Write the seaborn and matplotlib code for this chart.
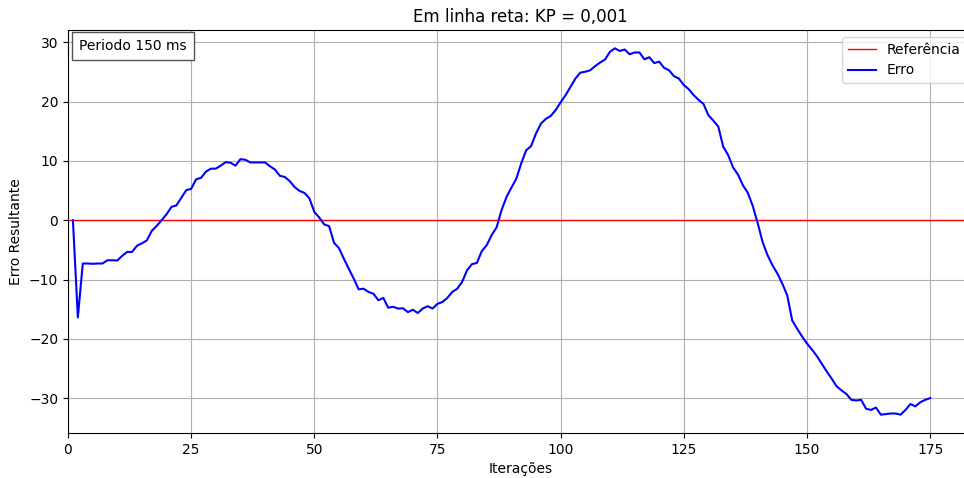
import matplotlib
matplotlib.use("Agg")
import matplotlib.pyplot as plt
import seaborn as sns
import numpy as np

iteracoes = list(range(1, 176))
erro = [
    0.0, -16.4, -7.3, -7.3, -7.35, -7.3, -7.3, -6.75, -6.75, -6.8,
    -6.0, -5.35, -5.35, -4.3, -3.9, -3.4, -1.8, -0.96, 0.0, 1.0,
    2.25, 2.5, 3.8, 5.07, 5.3, 6.9, 7.15, 8.2, 8.7, 8.7,
    9.2, 9.8, 9.7, 9.2, 10.3, 10.2, 9.75, 9.75, 9.75, 9.75,
    9.1, 8.55, 7.5, 7.3, 6.6, 5.6, 4.95, 4.6, 3.7, 1.4,
    0.45, -0.7, -1.0, -3.8, -4.7, -6.5, -8.2, -9.85, -11.65, -11.55,
    -12.1, -12.4, -13.5, -13.1, -14.75, -14.6, -14.9, -14.85, -15.5, -15.1,
    -15.65, -14.9, -14.5, -14.9, -14.1, -13.8, -13.1, -12.1, -11.55, -10.4,
    -8.45, -7.4, -7.2, -5.2, -4.2, -2.5, -1.2, 1.7, 3.9, 5.5,
    7.0, 9.6, 11.8, 12.5, 14.65, 16.3, 17.1, 17.6, 18.6, 19.9,
    21.1, 22.5, 23.9, 24.9, 25.05, 25.3, 26.0, 26.6, 27.1, 28.4,
    29.0, 28.55, 28.8, 28.0, 28.3, 28.3, 27.15, 27.5, 26.5, 26.75,
    25.7, 25.3, 24.3, 23.9, 22.8, 22.1, 21.1, 20.3, 19.6, 17.7,
    16.8, 15.8, 12.4, 11.0, 8.9, 7.7, 5.9, 4.6, 2.4, -0.5,
    -3.7, -5.9, -7.6, -9.0, -10.7, -12.7, -16.9, -18.3, -19.6, -20.8,
    -21.8, -22.9, -24.2, -25.5, -26.7, -28.0, -28.7, -29.3, -30.3, -30.4,
    -30.3, -31.8, -32.0, -31.6, -32.8, -32.7, -32.6, -32.6, -32.8, -32.0,
    -31.0, -31.4, -30.7, -30.3, -30.0,
]
referencia = 0.0
titulo = "Em linha reta: KP = 0,001"
anotacao = "Periodo 150 ms"

fig = plt.figure(figsize=(9.64, 4.78), dpi=100)
ax = fig.add_axes([68 / 964, 45 / 478, 905 / 964, 403 / 478])

ax.axhline(referencia, color="red", lw=1.0, label="Referência")
sns.lineplot(x=iteracoes, y=erro, ax=ax, color="blue", lw=1.5, label="Erro")

ax.set_xlim(left=0, right=183.7)
ax.set_xticks([0, 25, 50, 75, 100, 125, 150, 175])
ax.set_yticks([-30, -20, -10, 0, 10, 20, 30])
ax.grid(True)
for s in ax.spines.values():
    s.set_visible(True)
ax.set_title(titulo, fontsize=12)
ax.set_xlabel("Iterações")
ax.set_ylabel("Erro Resultante")
ax.legend(loc="upper right")
ax.text(0.0122, 0.977, anotacao, transform=ax.transAxes, ha="left", va="top",
        fontsize=10, zorder=5,
        bbox=dict(boxstyle="square,pad=0.5", facecolor="white", edgecolor="#555555", lw=1.0))

fig.savefig("out.png", dpi=100)
